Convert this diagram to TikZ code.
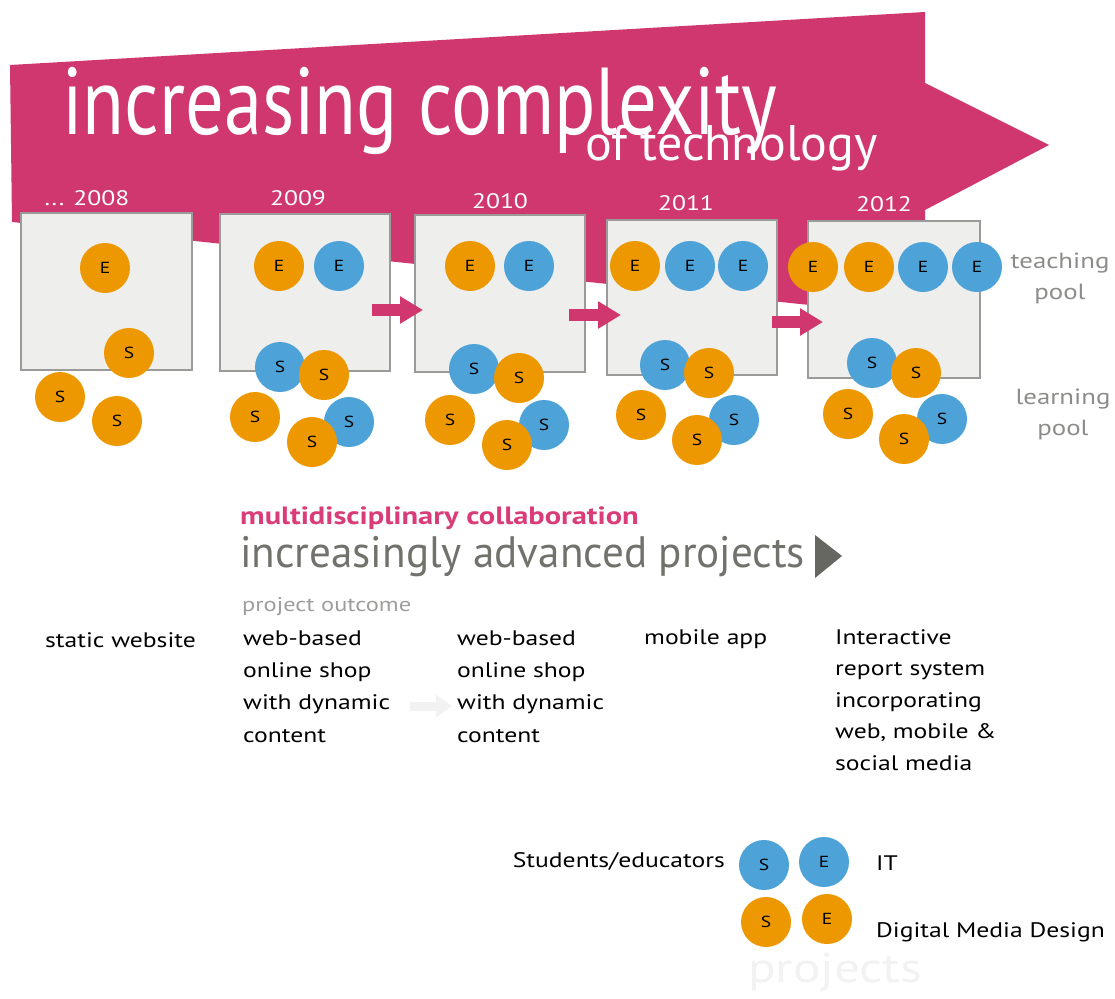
\documentclass[tikz,border=0pt]{standalone}
\usepackage{fontspec}
\setmainfont{PT Sans}
\newfontfamily\wf[FakeStretch=1.22]{PT Sans}
\usetikzlibrary{arrows.meta}
\definecolor{pk}{HTML}{CF376E}
\definecolor{pktxt}{HTML}{D93C78}
\definecolor{orng}{HTML}{ED9800}
\definecolor{blu}{HTML}{4DA2D8}
\definecolor{boxfill}{HTML}{EEEEEC}
\definecolor{boxline}{HTML}{9A9A98}
\definecolor{grtxt}{HTML}{8C8C8A}
\definecolor{dgr}{HTML}{72726C}
\definecolor{faint}{HTML}{F2F2F2}
\tikzset{
  yearbox/.style={draw=boxline, fill=boxfill, line width=2pt, inner sep=0pt},
  person/.style={circle, inner sep=0pt, minimum size=50pt, text=black, font=\wf\fontsize{16}{16}\selectfont},
  orp/.style={person, fill=orng},
  blp/.style={person, fill=blu},
  yr/.style={anchor=base, text=white, font=\wf\fontsize{21}{21}\selectfont},
  outc/.style={anchor=base west, align=left, inner sep=0pt, text=black, font=\wf\fontsize{21}{32.3}\selectfont},
  pool/.style={align=center, text=grtxt, font=\wf\fontsize{22}{31}\selectfont},
  plain/.style={anchor=base west, inner sep=0pt, text=black, font=\wf\fontsize{21}{21}\selectfont},
  blockarrow/.style={draw=pk, line width=12pt, -{Triangle[length=23pt,width=26pt]}}
}
\newcommand{\ybox}[5]{\node[yearbox, minimum width=#4pt, minimum height=#5pt, anchor=north west] (#1) at (#2,#3) {};}
\begin{document}
\begin{tikzpicture}[x=1pt,y=-1pt]
\useasboundingbox (0,0) rectangle (1115,998);
% big arrow
\fill[pk] (10,65) -- (925,12) -- (925,83) -- (1049,145) -- (925,210) -- (925,317) -- (12,222) -- cycle;
\node[anchor=base west, text=white, font=\fontsize{95}{95}\selectfont, inner sep=0pt] (title) at (62,134) {\scalebox{0.806}[1]{increasing complexity}};
\node[anchor=base west, text=white, font=\fontsize{50}{50}\selectfont, inner sep=0pt] (sub) at (585,160) {of technology};
% years
\node[yr] (y08) at (87,205) {... 2008};
\node[yr] (y09) at (298,205) {2009};
\node[yr] (y10) at (500,208) {2010};
\node[yr] (y11) at (686,210) {2011};
\node[yr] (y12) at (884,211) {2012};
% boxes
\ybox{b08}{20}{212}{171}{157}
\ybox{b09}{219}{213}{170}{157}
\ybox{b10}{414}{214}{170}{157}
\ybox{b11}{606}{219}{170}{155}
\ybox{b12}{807}{220}{172}{157}
% arrows between boxes
\coordinate (a1s) at (372,310); \coordinate (a1e) at (423,310);
\coordinate (a2s) at (569,315); \coordinate (a2e) at (621,315);
\coordinate (a3s) at (772,322); \coordinate (a3e) at (823,322);
\draw[blockarrow] (a1s) -- (a1e);
\draw[blockarrow] (a2s) -- (a2e);
\draw[blockarrow] (a3s) -- (a3e);
% 2008
\node[orp] (e081) at (105,268) {E};
\node[orp] (s081) at (129,353) {S};
\node[orp] (s082) at (60,397) {S};
\node[orp] (s083) at (117,421) {S};
% 2009
\node[orp] (e091) at (279,266) {E};
\node[blp] (e092) at (339,266) {E};
\node[blp] (s091) at (280,367) {S};
\node[orp] (s092) at (324,375) {S};
\node[orp] (s093) at (255,417) {S};
\node[blp] (s094) at (349,422) {S};
\node[orp] (s095) at (312,442) {S};
% 2010
\node[orp] (e101) at (470,266) {E};
\node[blp] (e102) at (529,266) {E};
\node[blp] (s101) at (474,369) {S};
\node[orp] (s102) at (519,378) {S};
\node[orp] (s103) at (450,420) {S};
\node[blp] (s104) at (544,425) {S};
\node[orp] (s105) at (507,445) {S};
% 2011
\node[orp] (e111) at (635,266) {E};
\node[blp] (e112) at (690,266) {E};
\node[blp] (e113) at (743,266) {E};
\node[blp] (s111) at (665,365) {S};
\node[orp] (s112) at (709,373) {S};
\node[orp] (s113) at (641,415) {S};
\node[blp] (s114) at (734,420) {S};
\node[orp] (s115) at (697,440) {S};
% 2012
\node[orp] (e121) at (813,267) {E};
\node[orp] (e122) at (869,267) {E};
\node[blp] (e123) at (923,267) {E};
\node[blp] (e124) at (977,267) {E};
\node[blp] (s121) at (872,363) {S};
\node[orp] (s122) at (916,373) {S};
\node[orp] (s123) at (848,414) {S};
\node[blp] (s124) at (942,419) {S};
\node[orp] (s125) at (904,439) {S};
% pool labels
\node[pool] (tp) at (1060,278) {teaching\\pool};
\node[pool] (lp) at (1063,414) {learning\\pool};
% middle texts
\node[anchor=base west, inner sep=0pt, text=pktxt, font=\wf\bfseries\fontsize{25}{25}\selectfont] (multi) at (240,524) {multidisciplinary collaboration};
\node[anchor=base west, inner sep=0pt, text=dgr, font=\fontsize{44}{44}\selectfont] (adv) at (240,567) {\scalebox{0.98}[1]{increasingly advanced projects}};
\fill[dgr!90!black] (815,535) -- (842,556) -- (815,578) -- cycle;
\node[anchor=base west, inner sep=0pt, text=grtxt!85!white, font=\wf\fontsize{20}{20}\selectfont] (po) at (242,611) {project outcome};
% outcomes (base = last line)
\node[outc] (o1) at (45,647) {static website};
\node[outc] (o2) at (243,742) {web-based\\online shop\\with dynamic\\content};
\node[outc] (o3) at (457,742) {web-based\\online shop\\with dynamic\\content};
\node[outc] (o4) at (644,644) {mobile app};
\node[outc, font=\wf\fontsize{21}{31.5}\selectfont] (o5) at (835,770) {Interactive\\report system\\incorporating\\web, mobile \&\\social media};
\coordinate (fa1) at (410,706); \coordinate (fa2) at (452,706);
\draw[draw=faint, line width=9pt, -{Triangle[length=16pt,width=22pt]}] (fa1) -- (fa2);
% legend
\node[plain, anchor=base east] (se) at (725,867) {Students/educators};
\node[blp] (ls1) at (764,865) {S};
\node[blp] (le1) at (824,862) {E};
\node[orp] (ls2) at (766,922) {S};
\node[orp] (le2) at (827,919) {E};
\node[plain] (it) at (876,870) {IT};
\node[plain] (dmd) at (876,937) {Digital Media Design};
\node[text=faint, font=\wf\fontsize{42}{42}\selectfont] (proj) at (835,972) {projects};
\end{tikzpicture}
\end{document}
